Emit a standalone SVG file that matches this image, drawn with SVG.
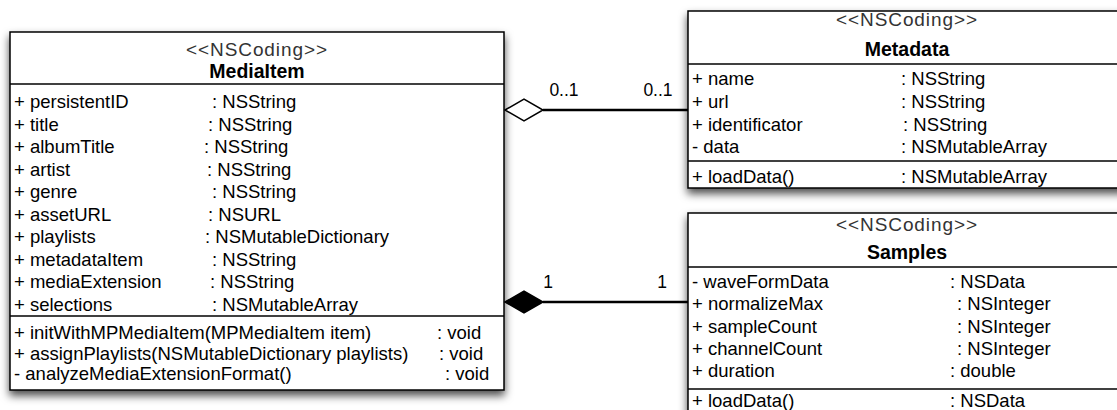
<svg xmlns="http://www.w3.org/2000/svg" width="1117" height="410" viewBox="0 0 1117 410">
  <defs>
    <filter id="shadow" x="-10%" y="-10%" width="125%" height="135%">
      <feDropShadow dx="0" dy="5" stdDeviation="4.5" flood-color="#000" flood-opacity="0.7"/>
    </filter>
  </defs>
  <style>
    text { font-family: "Liberation Sans", Arial, sans-serif; font-size: 18.5px; fill: #000; }
    .st { fill: #333; font-size: 19px; letter-spacing: 0.9px; text-anchor: middle; }
    .nm { font-weight: bold; font-size: 19.5px; text-anchor: middle; }
    .box { fill: #fff; stroke: #000; stroke-width: 1.5; }
    .div { stroke: #000; stroke-width: 1.5; }
    .conn { stroke: #000; stroke-width: 2.5; fill: none; }
    .lbl { font-size: 17.5px; text-anchor: middle; }
  </style>
  <rect width="1117" height="410" fill="#fff"/>

  <g id="MediaItem">
    <rect class="box" x="10" y="32" width="494" height="358" filter="url(#shadow)"/>
    <line class="div" x1="10" y1="84" x2="504" y2="84"/>
    <line class="div" x1="10" y1="316" x2="504" y2="316"/>
    <text class="st" x="257" y="55.5">&lt;&lt;NSCoding&gt;&gt;</text>
    <text class="nm" x="257" y="78">MediaItem</text>
    <text x="14" y="108">+ persistentID</text><text x="212" y="108">: NSString</text>
    <text x="14" y="130.5">+ title</text><text x="208" y="130.5">: NSString</text>
    <text x="14" y="153">+ albumTitle</text><text x="204" y="153">: NSString</text>
    <text x="14" y="175.5">+ artist</text><text x="207" y="175.5">: NSString</text>
    <text x="14" y="198">+ genre</text><text x="212" y="198">: NSString</text>
    <text x="14" y="220.5">+ assetURL</text><text x="208" y="220.5">: NSURL</text>
    <text x="14" y="243">+ playlists</text><text x="205" y="243">: NSMutableDictionary</text>
    <text x="14" y="265.5">+ metadataItem</text><text x="212" y="265.5">: NSString</text>
    <text x="14" y="288">+ mediaExtension</text><text x="210" y="288">: NSString</text>
    <text x="14" y="310.5">+ selections</text><text x="212" y="310.5">: NSMutableArray</text>
    <text x="14" y="339">+ initWithMPMediaItem(MPMediaItem item)</text><text x="437" y="339">: void</text>
    <text x="14" y="359.5">+ assignPlaylists(NSMutableDictionary playlists)</text><text x="439" y="359.5">: void</text>
    <text x="14" y="380">- analyzeMediaExtensionFormat()</text><text x="445" y="380">: void</text>
  </g>

  <g id="Metadata">
    <rect class="box" x="688" y="11" width="438" height="177" filter="url(#shadow)"/>
    <line class="div" x1="688" y1="64" x2="1126" y2="64"/>
    <line class="div" x1="688" y1="161" x2="1126" y2="161"/>
    <text class="st" x="907" y="26">&lt;&lt;NSCoding&gt;&gt;</text>
    <text class="nm" x="907" y="56">Metadata</text>
    <text x="692" y="85">+ name</text><text x="901" y="85">: NSString</text>
    <text x="692" y="108">+ url</text><text x="901" y="108">: NSString</text>
    <text x="692" y="130.5">+ identificator</text><text x="903" y="130.5">: NSString</text>
    <text x="692" y="153">- data</text><text x="901" y="153">: NSMutableArray</text>
    <text x="692" y="182.5">+ loadData()</text><text x="901" y="182.5">: NSMutableArray</text>
  </g>

  <g id="Samples">
    <rect class="box" x="688" y="213" width="438" height="215" filter="url(#shadow)"/>
    <line class="div" x1="688" y1="267" x2="1126" y2="267"/>
    <line class="div" x1="688" y1="389" x2="1126" y2="389"/>
    <text class="st" x="907" y="230.5">&lt;&lt;NSCoding&gt;&gt;</text>
    <text class="nm" x="907" y="258.5">Samples</text>
    <text x="692" y="287.5">- waveFormData</text><text x="950" y="287.5">: NSData</text>
    <text x="692" y="310">+ normalizeMax</text><text x="957" y="310">: NSInteger</text>
    <text x="692" y="332.5">+ sampleCount</text><text x="957" y="332.5">: NSInteger</text>
    <text x="692" y="355">+ channelCount</text><text x="957" y="355">: NSInteger</text>
    <text x="692" y="377">+ duration</text><text x="950" y="377">: double</text>
    <text x="692" y="406.5">+ loadData()</text><text x="950" y="406.5">: NSData</text>
  </g>

  <g id="connectors">
    <g id="aggregation">
      <line class="conn" x1="543" y1="110" x2="688" y2="110"/>
      <polygon points="505,110 524,99 543,110 524,121" fill="#fff" stroke="#000" stroke-width="1.5"/>
      <text class="lbl" x="564" y="96">0..1</text>
      <text class="lbl" x="658" y="96">0..1</text>
    </g>
    <g id="composition">
      <line class="conn" x1="543" y1="302" x2="688" y2="302"/>
      <polygon points="505,302 524,291 543,302 524,313" fill="#000" stroke="#000" stroke-width="1.5"/>
      <text class="lbl" x="548" y="287.5">1</text>
      <text class="lbl" x="662" y="287.5">1</text>
    </g>
  </g>
</svg>
